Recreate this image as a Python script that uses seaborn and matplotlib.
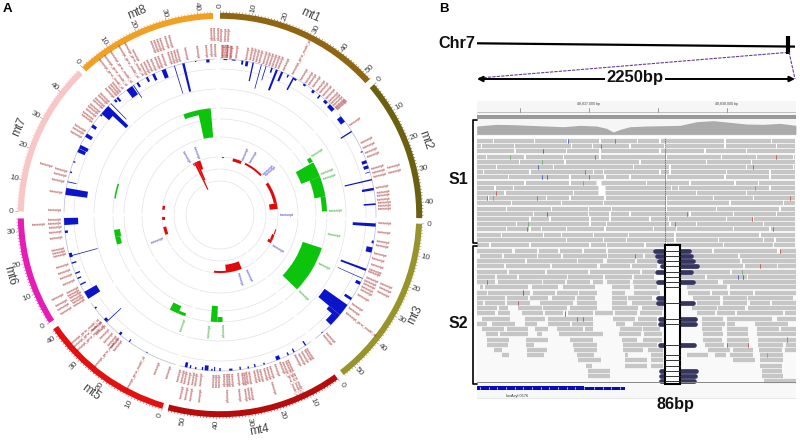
import numpy as np
import pandas as pd
import matplotlib
matplotlib.use('Agg')
import matplotlib.pyplot as plt
from matplotlib.patches import Rectangle
import seaborn as sns

sns.set_theme(style='white')
plt.rcParams['font.family'] = ['Liberation Sans', 'DejaVu Sans']

# ---- panel A data ----
mt_names = ['mt1', 'mt2', 'mt3', 'mt4', 'mt5', 'mt6', 'mt7', 'mt8']
mt_start = [0.0, 49.7, 92.5, 144.3, 196.6, 237.7, 271.0, 317.0]
mt_end = [47.8, 90.9, 142.3, 195.0, 235.6, 269.0, 315.6, 358.0]
mt_colors = ['#8f6412', '#6b6010', '#98942c', '#b80c0c', '#e41010', '#e61cb4', '#f8c6c6', '#f2a024']
mt_label_theta = [24.5, 70, 117, 169.6, 216, 254, 293.7, 337.7]
deg_per_unit = 0.917

blue_theta = [346.4, 343, 338.8, 334.7, 332, 328, 324.5, 326.3, 318.8, 317.6, 312, 313.5, 315.6, 310, 304.9, 300.8,
              296, 294.5, 290, 286, 282.3, 278.7, 267.6, 263.8, 254.7, 255, 252, 248, 246, 243.5, 239, 233.3, 226.7,
              227.5, 220, 215.6, 208, 192.6, 191, 189, 185, 186.5, 183, 182, 180, 176, 172.5, 169.5, 167, 163.5, 158,
              154, 151.6, 146.7, 139, 127.5, 130.6, 133, 122.6, 116, 114, 110.6, 103, 100, 93.7, 86, 80.4, 76.9, 74, 72, 70,
              66, 57.6, 52, 46, 43, 39.9, 37, 33, 29, 28.2, 26, 23.5, 21.4, 19.5, 17.2, 15.4, 12.3, 10, 8.3, 5, 2,
              355.5, 351]
blue_width = [0.9, 0.3, 1.6, 1.0, 0.8, 0.8, 2.6, 0.3, 0.8, 0.8, 3.0, 1.6, 0.3, 0.6, 1.2, 1.4,
              1.4, 1.4, 0.5, 0.5, 0.3, 2.6, 2.6, 0.9, 0.3, 1.6, 0.5, 0.5, 0.5, 0.5, 3.0, 0.6, 0.3,
              1.2, 0.9, 0.4, 0.4, 1.0, 0.5, 0.5, 1.4, 0.5, 0.5, 0.4, 0.5, 1.2, 0.5, 0.5, 0.5, 0.5, 1.5,
              0.5, 0.5, 0.5, 0.5, 4.6, 1.6, 3.6, 1.0, 1.2, 0.25, 0.8, 2.0, 1.0, 1.2, 0.6, 0.9, 0.5, 0.25, 1.2, 1.2,
              0.4, 0.5, 2.5, 2.5, 1.4, 0.6, 1.0, 1.0, 1.0, 0.6, 0.5, 0.8, 0.8, 0.6, 0.3, 0.3, 0.5, 1.0, 0.7, 1.4, 1.4,
              1.2, 0.5]
blue_depth = [29, 29, 9, 7, 5, 5, 10, 15, 5, 3, 10, 28, 22, 2, 5, 7,
              9, 8, 2, 2, 9, 22, 14, 3, 29, 3, 5, 5, 4, 6, 14, 2, 20,
              3, 3, 3, 1, 5, 3, 2, 5, 3, 2, 4, 3, 2, 3, 2, 3, 2, 4,
              3, 4, 5, 1, 28, 14, 7, 8, 5, 27, 27, 6, 2, 23, 12, 12, 28, 5, 5, 5,
              2, 13, 5, 4, 3, 4, 3, 2, 2, 14, 3, 10, 22, 5, 15, 25, 19, 5, 4, 1, 1,
              3, 1]

green_theta = [351.5, 344.5, 283, 260, 256, 205.5, 201, 183.2, 180, 121, 64.8, 74.5, 84, 58.8]
green_width = [7.0, 9.0, 8.0, 4.0, 4.0, 5.0, 4.0, 3.6, 2.8, 26.0, 8.5, 11.0, 8.0, 2.6]
green_depth = [29, 5, 1.5, 6, 5, 8, 3, 16, 5, 20, 20, 11, 5, 4]

red_theta = [332.5, 334.5, 336.5, 338.5, 277.3, 266.5, 254, 166, 180, 117.5, 113, 107, 81, 67, 36, 17.5, 3]
red_width = [1.0, 2.2, 2.0, 3.0, 4.0, 3.0, 8.0, 16.0, 12.0, 3.0, 6.0, 5.0, 6.0, 22.0, 20.0, 9.0, 2.0]
red_depth = [3, 30, 20, 9, 2.5, 3, 3, 8, 2, 4, 2.5, 1, 8, 3, 2, 3, 1]

gene_theta_inner = [1, 2, 3, 4, 1.5, 3, 4.5, 6, 10, 11.2, 12.4, 13.6, 14.8, 16, 17.2, 18.4, 19.6, 20.8, 22, 24,
                    31, 33, 34.5, 36, 38, 39.5, 41, 42.5, 44, 45, 46, 47, 48, 47.5, 55.5, 63, 65, 67, 68.5, 73, 74.5,
                    76, 80, 82, 83.2, 84.4, 85.6, 86.8, 88, 93, 96, 99.5, 101, 104, 106, 108, 110, 111, 113, 114.3,
                    115.5, 116.8, 118, 120, 124, 126, 138, 139.5, 147, 148.2, 149.4, 150.6, 152, 158, 160, 162, 163.2,
                    164.4, 165.6, 166.8, 168, 170, 170.8, 171.6, 172.4, 173.8, 176, 177, 178, 179, 180, 181, 182,
                    186.5, 188, 189.2, 190.4, 191.6, 192.8, 194, 198, 202, 218, 219.3, 220.6, 222, 224, 226, 228,
                    238, 239, 240, 241, 242, 243, 246, 248, 250, 252, 256, 258, 257, 262, 264, 265.5, 267, 268.5,
                    271.7, 278, 282, 284, 286, 299, 300.5, 302, 306, 307, 308.2, 309.4, 310.6, 312, 313.2, 314.4, 315.6,
                    318, 319, 320, 321, 332, 333.3, 334.6, 336, 337.3, 338.6, 340, 342, 343, 344, 345, 348, 352, 355,
                    356.5, 358]
gene_theta_outer = [0.8, 1.8, 2.8, 74.5, 76, 113, 114.5, 116, 163, 170, 171, 172, 174, 178, 186, 189, 190.5, 192, 238,
                    239.5, 241, 243, 267, 286, 332, 338, 339, 340, 341, 342.5, 344, 357, 358, 359]
gene_theta_long = [27.3, 128, 155, 156, 157, 208, 219.5, 226.5, 227.8, 229, 322, 324, 326, 329, 331]
gene_short = 'transcript'
gene_long = 'transcript_gene_model_id'

blue_label_theta = [22.9, 30, 47, 49, 90, 120, 155, 163, 248, 330, 339]
green_label_theta = [57.5, 68, 71, 88, 100, 116, 134, 198.5, 185, 179]

ring_radii = [156, 146, 126, 107, 96, 78, 58, 46, 34]

# ---- panel B data ----
cov_x = [140, 200, 250, 300, 350, 400, 450, 500, 530, 550, 570, 600, 650, 700, 750, 800, 850, 900, 950, 1000, 1050, 1098]
cov_depth = [25, 30, 29, 27, 25, 23, 27, 25, 18, 7, 15, 23, 25, 26, 27, 38, 41, 36, 31, 30, 33, 27]

s1_breaks = [
    [190, 313, 412, 510, 622, 690, 885, 1025],
    [155, 253, 425, 488, 515, 600, 705, 885, 1040],
    [255, 410, 510, 690, 825, 950],
    [170, 285, 400, 510, 710, 875, 980, 1090],
    [268, 405, 630, 830, 965],
    [200, 370, 610, 720, 950, 1090],
    [160, 300, 490, 520, 690, 720, 890, 1020],
    [235, 420, 525, 600, 710, 885, 1020],
    [285, 420, 505, 650, 780, 915, 985],
    [195, 250, 515, 725, 745, 1020],
    [225, 430, 515, 800, 950],
    [175, 350, 420, 525, 710, 850, 970],
    [245, 395, 520, 710, 900, 1060],
    [230, 365, 475, 545, 710, 860, 1050],
    [310, 475, 540, 600, 780, 910, 1040],
    [300, 360, 480, 540, 660, 715, 890, 970],
    [260, 480, 530, 720, 800, 1000],
    [230, 300, 335, 410, 525, 670, 740, 910, 1020],
    [215, 340, 395, 490, 595, 735, 990],
    [410, 520, 590, 735, 865, 1000, 1035],
    [180, 300, 480, 530, 645, 710, 880, 1030],
]
s1_gap_wide = {8: (498, 512), 9: (505, 525), 10: (505, 525)}

s2_reads = [
    [(140, 245), (255, 322), (328, 385), (390, 455), (462, 528), (535, 672), (780, 845), (852, 1040), (1050, 1098)],
    [(150, 215), (222, 320), (325, 392), (398, 530), (535, 640), (645, 680), (785, 925), (930, 1098)],
    [(140, 285), (292, 440), (445, 520), (530, 615), (620, 685), (795, 930), (935, 1098)],
    [(140, 222), (228, 360), (365, 500), (510, 600), (605, 680), (805, 940), (945, 1040), (1045, 1098)],
    [(140, 230), (237, 345), (350, 475), (480, 630), (635, 675), (785, 900), (905, 1098)],
    [(140, 195), (200, 260), (268, 410), (415, 520), (525, 605), (612, 672), (750, 825), (830, 950), (955, 1098)],
    [(140, 195), (205, 335), (340, 405), (410, 480), (488, 520), (530, 600), (610, 680), (795, 865), (880, 1098)],
    [(150, 160), (165, 295), (305, 385), (398, 495), (545, 600), (612, 680), (770, 890), (900, 1098)],
    [(140, 170), (175, 300), (308, 375), (380, 445), (448, 500), (545, 585), (612, 690), (775, 840), (845, 895), (900, 970), (975, 1098)],
    [(140, 225), (230, 295), (300, 355), (365, 435), (440, 495), (545, 590), (595, 665), (790, 870), (880, 950), (955, 1090)],
    [(140, 160), (165, 225), (232, 300), (330, 430), (440, 500), (545, 590), (605, 680), (800, 870), (880, 950), (960, 1020), (1025, 1098)],
    [(140, 200), (208, 235), (265, 335), (340, 410), (420, 500), (545, 625), (635, 700), (785, 860), (865, 945), (955, 1098)],
    [(140, 195), (205, 240), (275, 340), (345, 400), (415, 490), (495, 550), (555, 620), (630, 695), (800, 855), (860, 915), (920, 1060), (1065, 1098)],
    [(155, 240), (285, 345), (355, 490), (550, 615), (625, 680), (815, 880), (890, 1025), (1040, 1098)],
    [(140, 170), (185, 255), (285, 320), (355, 420), (425, 490), (558, 585), (610, 680), (815, 885), (890, 915), (975, 1075)],
    [(155, 222), (230, 295), (315, 355), (382, 460), (465, 490), (570, 635), (640, 690), (815, 875), (890, 955), (980, 1048), (1052, 1098)],
    [(168, 205), (210, 295), (320, 335), (388, 520), (568, 632), (642, 695), (820, 878), (890, 955), (982, 1098)],
    [(172, 238), (288, 355), (420, 490), (575, 620), (640, 695), (820, 875), (892, 958), (985, 1070), (1075, 1098)],
    [(170, 235), (288, 312), (430, 500), (580, 680), (825, 882), (892, 958), (985, 1060), (1068, 1098)],
    [(192, 215), (290, 352), (432, 500), (580, 640), (655, 700), (835, 900), (910, 970), (988, 1055), (1065, 1098)],
    [(215, 238), (292, 342), (440, 492), (585, 595), (662, 700), (770, 835), (855, 888), (900, 968), (990, 1058)],
    [(445, 512), (585, 652), (662, 700), (910, 975), (990, 1058)],
    [(468, 485), (585, 652), (662, 700), (990, 1055)],
    [(475, 540), (995, 1055)],
    [(473, 540), (995, 1060)],
    [(1002, 1098)],
]
# soft clipped reads next to the deletion: row, start, end
s2_clip = [
    (0, 675, 705), (0, 750, 778), (1, 680, 705), (1, 750, 782), (2, 688, 705), (2, 750, 790),
    (3, 695, 705), (3, 750, 800), (4, 680, 705), (4, 750, 782), (6, 685, 710), (6, 745, 788),
    (9, 685, 712), (10, 685, 705), (10, 745, 790), (13, 690, 710), (13, 745, 795), (14, 690, 710),
    (14, 745, 795), (18, 690, 710), (18, 745, 792), (23, 692, 710), (23, 745, 798), (24, 692, 710),
    (24, 745, 795), (25, 692, 710), (25, 745, 792),
]
s2_rungs = [0, 1, 2, 3, 4, 5, 6, 7, 10, 13, 14, 18, 20, 21, 22, 23, 24, 25]

s1_mismatch_row = [2, 0, 1, 5, 7, 7, 14, 0, 3, 6, 7, 10, 11, 11, 5, 3, 15, 14, 11, 17, 16, 17, 3, 4, 8, 9, 11, 16]
s1_mismatch_x = [338, 415, 512, 325, 335, 350, 350, 555, 495, 465, 478, 197, 170, 322, 968, 1037, 965, 770, 1080, 290, 735, 1030, 240, 335, 460, 975, 190, 295]
s1_mismatch_c = ['b', 'b', 'b', 'b', 'b', 'b', 'b', 'r', 'r', 'r', 'r', 'r', 'r', 'r', 'r', 'r', 'r', 'r', 'r', 'r', 'r', 'r', 'g', 'g', 'g', 'g', 'g', 'g']
s2_mismatch_row = [0, 1, 5, 5, 6, 10, 12, 13, 13, 17, 18, 18, 20, 3, 4, 8]
s2_mismatch_x = [1050, 615, 925, 940, 170, 265, 405, 440, 460, 1070, 890, 955, 1010, 990, 935, 280]
s2_mismatch_c = ['r', 'r', 'b', 'b', 'r', 'r', 'b', 'r', 'r', 'r', 'r', 'r', 'g', 'r', 'g', 'b']

ruler_ticks = [520, 589, 658, 727]
ruler_labels = ['48,837,000 bp', '48,838,000 bp']
gene_ticks = [150, 176, 202, 228, 254, 280, 306, 332, 358, 384, 410, 436, 462, 492, 518, 544, 570]

mismatch_colors = {'b': '#3344bb', 'r': '#c04040', 'g': '#55aa66'}


def radial_rotation(theta):
    return 90 - theta if theta < 180 else 270 - theta


def read_frame(rows):
    records = []
    for i, (row, start, end) in enumerate(rows):
        records.append({'read': i, 'row': row, 'x': start})
        records.append({'read': i, 'row': row, 'x': end})
    return pd.DataFrame(records)


fig = plt.figure(figsize=(8, 4.4), dpi=100, facecolor='white')

# ---- panel A: circular tracks, radius in pixels ----
ax = fig.add_axes([5 / 800, 10 / 440, 430 / 800, 430 / 440], projection='polar')
ax.set_theta_zero_location('N')
ax.set_theta_direction(-1)
ax.set_ylim(0, 215)
ax.set_axis_off()

for start, end, color, name, lab_theta in zip(mt_start, mt_end, mt_colors, mt_names, mt_label_theta):
    arc = np.deg2rad(np.linspace(start, end, 60))
    ax.bar(np.deg2rad((start + end) / 2), 6.0, np.deg2rad(end - start), bottom=196.2, color=color, linewidth=0)
    for rad in ring_radii:
        c = '#b8b8d8' if rad == 156 else '#e2e2e8'
        ax.plot(arc, np.full(arc.shape, rad), color=c, lw=0.5, zorder=1)
    units = np.arange(0, int((end - start) / deg_per_unit) + 1)
    for u in units:
        th = start + u * deg_per_unit
        major = u % 10 == 0
        ax.plot([np.deg2rad(th)] * 2, [202.2, 204.5 if major else 203.4], color='#888888' if major else color, lw=0.4)
        if major:
            ax.text(np.deg2rad(th), 209.5, str(u), rotation=radial_rotation(th), rotation_mode='anchor',
                    ha='center', va='center', fontsize=6, color='#444444')
    rot = -lab_theta if (lab_theta < 90 or lab_theta > 270) else 180 - lab_theta
    ax.text(np.deg2rad(lab_theta), 219, name, rotation=rot, rotation_mode='anchor',
            ha='center', va='center', fontsize=8.5, color='#444444')

ax.bar(np.deg2rad(blue_theta), blue_depth, np.deg2rad(blue_width), bottom=156 - np.array(blue_depth),
       color='#0a14c8', linewidth=0, zorder=3)
ax.bar(np.deg2rad(green_theta), green_depth, np.deg2rad(green_width), bottom=107 - np.array(green_depth),
       color='#0dc40d', linewidth=0, zorder=3)
ax.bar(np.deg2rad(red_theta), red_depth, np.deg2rad(red_width), bottom=58 - np.array(red_depth),
       color='#e00a0a', linewidth=0, zorder=3)


def radial_labels(thetas, r0, text, color, size=2.4):
    for th in thetas:
        ax.text(np.deg2rad(th), r0, text, rotation=radial_rotation(th), rotation_mode='anchor',
                ha='left' if th < 180 else 'right', va='center', fontsize=size, color=color)


radial_labels(gene_theta_inner, 158, gene_short, '#9c1c1c')
radial_labels(gene_theta_outer, 174, gene_short, '#9c1c1c')
radial_labels(gene_theta_long, 159, gene_long, '#9c1c1c')
radial_labels(blue_label_theta, 60, gene_short, '#3030c0')
radial_labels(green_label_theta, 109, gene_short, '#1c9c1c')

# ---- panel B: read tracks, x in track units ----
x0, x1 = 476.7, 795.9
s1_top, s1_bottom = 138.4, 247.6
s2_top, s2_bottom = 248.1, 384.0
cov_top, cov_bottom = 120.0, 134.4


def px_axes(top, bottom):
    return fig.add_axes([x0 / 800, 1 - bottom / 440, (x1 - x0) / 800, (bottom - top) / 440])


ax_s1 = px_axes(s1_top, s1_bottom)
rows = []
for row, breaks in enumerate(s1_breaks):
    edges = [140] + breaks + [1098]
    for a, b in zip(edges[:-1], edges[1:]):
        rows.append((row, a + 2, b - 2))
df_s1 = read_frame(rows)
sns.lineplot(data=df_s1, x='x', y='row', units='read', estimator=None, sort=False, color='#c6c6c6',
             lw=3.1, solid_capstyle='butt', legend=False, ax=ax_s1)
for row, (a, b) in s1_gap_wide.items():
    ax_s1.plot([a, b], [row, row], color='white', lw=3.6, solid_capstyle='butt')
ax_s1.axvline(706, color='#555555', lw=0.5, ls=(0, (2, 1)))
for row, x, c in zip(s1_mismatch_row, s1_mismatch_x, s1_mismatch_c):
    ax_s1.plot([x, x], [row - 0.4, row + 0.4], color=mismatch_colors[c], lw=0.5)
ax_s1.set_xlim(140, 1098)
ax_s1.set_ylim(20.5, -0.5)
ax_s1.set_axis_off()

ax_s2 = px_axes(s2_top, s2_bottom)
ax_s2.set_facecolor('#f9f9f9')
rows = [(row, a, b) for row, reads in enumerate(s2_reads) for a, b in reads]
df_s2 = read_frame(rows)
sns.lineplot(data=df_s2, x='x', y='row', units='read', estimator=None, sort=False, color='#c6c6c6',
             lw=3.1, solid_capstyle='butt', legend=False, ax=ax_s2)
df_clip = read_frame(s2_clip)
sns.lineplot(data=df_clip, x='x', y='row', units='read', estimator=None, sort=False, color='#35355f',
             lw=3.4, solid_capstyle='round', legend=False, ax=ax_s2)
for row, x, c in zip(s2_mismatch_row, s2_mismatch_x, s2_mismatch_c):
    ax_s2.plot([x, x], [row - 0.4, row + 0.4], color=mismatch_colors[c], lw=0.5)
ax_s2.set_xlim(140, 1098)
ax_s2.set_ylim(25.5, -0.5)
ax_s2.set(xlabel='', ylabel='', xticks=[], yticks=[])
for sp in ax_s2.spines.values():
    sp.set_visible(False)

# ruler and gene track share track units on x and pixels on y
ax_trk = fig.add_axes([x0 / 800, 0, (x1 - x0) / 800, 1])
ax_trk.set_xlim(140, 1098)
ax_trk.set_ylim(440, 0)
ax_trk.set_axis_off()
ax_trk.add_patch(Rectangle((140, 101), 958, 14, color='#f6f6f6', lw=0))
ax_trk.plot([140, 1098], [112, 112], color='#aaaaaa', lw=0.5)
ax_trk.add_patch(Rectangle((140, 115.2), 958, 3.6, color='#9a9a9a', lw=0))
ax_trk.add_patch(Rectangle((140, 119), 958, 17, color='#f6f6f6', lw=0, zorder=0))
for t in ruler_ticks:
    ax_trk.plot([(t - 430) * 3] * 2, [108.5, 112], color='#777777', lw=0.5)
for t, lab in zip(ruler_ticks[1::2], ruler_labels):
    ax_trk.text((t - 430) * 3, 104.5, lab, fontsize=2.6, ha='center', va='center', color='#444444')
ax_trk.add_patch(Rectangle((140, 384), 958, 14, color='#f8f8f8', lw=0, zorder=0))
ax_trk.plot([140, 1098], [382.2, 382.2], color='#888888', lw=0.7)
ax_trk.plot([140, 1098], [398.3, 398.3], color='#dddddd', lw=0.5)
ax_trk.add_patch(Rectangle((140, 386), 322, 4.4, color='#0a0ac0', lw=0))
ax_trk.add_patch(Rectangle((462, 386.8), 123, 2.8, color='#0a0ac0', lw=0))
for t in gene_ticks:
    ax_trk.plot([t, t], [387.5, 389], color='white', lw=0.5)
ax_trk.text(260, 395.5, 'loxAcyl 0576', fontsize=2.8, ha='center', va='center', color='#333333')

ax_cov = px_axes(cov_top, cov_bottom)
ax_cov.set_zorder(5)
ax_cov.fill_between(cov_x, cov_depth, color='#ababab', lw=0)
ax_cov.set_xlim(140, 1098)
ax_cov.set_ylim(0, 43)
ax_cov.set_axis_off()

# annotations in figure pixels
ann = fig.add_axes([0, 0, 1, 1], zorder=10)
ann.set_xlim(0, 800)
ann.set_ylim(440, 0)
ann.set_axis_off()
ann.patch.set_alpha(0)

ann.text(3, 9, 'A', fontsize=9.5, fontweight='bold', color='black', va='center', ha='left')
ann.text(439, 9, 'B', fontsize=9.5, fontweight='bold', color='black', va='center', ha='left')
ann.text(438, 43.5, 'Chr7', fontsize=11.7, fontweight='bold', va='center', ha='left', color='#111111')
ann.plot([477, 795], [43.3, 46.6], color='black', lw=1.6, solid_capstyle='butt')
ann.plot([788, 788], [36, 53.6], color='black', lw=3.0, solid_capstyle='butt')
ann.plot([479, 786], [78, 52.5], color='#6a3d9a', lw=0.8, ls=(0, (3, 1)))
ann.plot([789, 795], [52, 79], color='#6a3d9a', lw=0.8, ls=(0, (3, 1)))
ann.annotate('', xy=(477, 79), xytext=(795, 79),
             arrowprops=dict(arrowstyle='<|-|>', color='black', lw=1.4, mutation_scale=8, shrinkA=0, shrinkB=0))
ann.text(635, 77.5, '2250bp', fontsize=12, fontweight='bold', ha='center', va='center', color='#111111',
         bbox=dict(facecolor='white', edgecolor='none', pad=1.2))
ann.text(458, 179, 'S1', fontsize=11.5, fontweight='bold', ha='center', va='center', color='#111111')
ann.text(458.5, 323, 'S2', fontsize=11.5, fontweight='bold', ha='center', va='center', color='#111111')
ann.text(675, 405, '86bp', fontsize=11.7, fontweight='bold', ha='center', va='center', color='#111111')

ann.plot([477, 473.3, 473.3, 477], [120.5, 120.5, 242.7, 242.7], color='black', lw=1.2)
ann.plot([477, 473.3, 473.3, 477], [245.7, 245.7, 384, 384], color='black', lw=1.2)

ann.add_patch(Rectangle((664.5, 245.5), 15.5, 138.5, facecolor='white', edgecolor='black', lw=1.5))
for row in s2_rungs:
    y = s2_top + (row + 0.5) * (s2_bottom - s2_top) / 26
    ann.plot([664.5, 680], [y, y], color='#333333', lw=0.7)

fig.savefig('out.png', dpi=100)
